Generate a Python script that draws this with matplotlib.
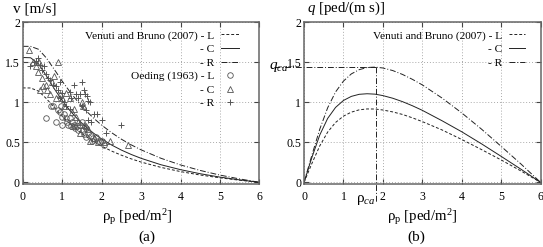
import matplotlib
matplotlib.use('Agg')
import matplotlib.pyplot as plt

plt.rcParams['font.family'] = ['Liberation Serif', 'DejaVu Serif']
plt.rcParams['mathtext.fontset'] = 'custom'
plt.rcParams['mathtext.rm'] = 'Liberation Serif'
plt.rcParams['mathtext.it'] = 'Liberation Serif:italic'
plt.rcParams['font.size'] = 8.5

# density samples
rho = [0, 0.2, 0.4, 0.6, 0.8, 1.0, 1.2, 1.4, 1.6, 1.8, 2.0, 2.25, 2.5, 2.75,
       3.0, 3.5, 4.0, 4.5, 5.0, 5.5, 6.0]
v_L = [1.18, 1.179, 1.140, 1.046, 0.935, 0.827, 0.731, 0.647, 0.573, 0.509, 0.452,
       0.391, 0.339, 0.293, 0.253, 0.187, 0.134, 0.091, 0.056, 0.026, 0.0]
v_C = [1.56, 1.557, 1.481, 1.331, 1.170, 1.023, 0.895, 0.786, 0.692, 0.612, 0.542,
       0.467, 0.403, 0.348, 0.300, 0.220, 0.158, 0.107, 0.065, 0.030, 0.0]
v_R = [1.70, 1.699, 1.663, 1.554, 1.411, 1.265, 1.129, 1.006, 0.897, 0.800, 0.715,
       0.621, 0.539, 0.468, 0.406, 0.301, 0.217, 0.148, 0.090, 0.042, 0.0]
q_L = [0, 0.236, 0.456, 0.628, 0.748, 0.827, 0.877, 0.906, 0.917, 0.916, 0.904,
       0.880, 0.848, 0.806, 0.759, 0.655, 0.536, 0.410, 0.280, 0.143, 0.0]
q_C = [0, 0.311, 0.592, 0.799, 0.936, 1.023, 1.074, 1.100, 1.107, 1.102, 1.084,
       1.051, 1.008, 0.957, 0.900, 0.770, 0.632, 0.482, 0.325, 0.165, 0.0]
q_R = [0, 0.340, 0.665, 0.932, 1.129, 1.265, 1.355, 1.408, 1.435, 1.440, 1.429,
       1.397, 1.348, 1.287, 1.218, 1.054, 0.868, 0.666, 0.450, 0.231, 0.0]

# Oeding (1963) measurements
oed_L_rho = [0.59, 0.72, 0.78, 0.85, 0.9, 0.95, 0.97, 1.0, 1.0, 1.05, 1.1, 1.12, 1.15,
             1.2, 1.22, 1.25, 1.3, 1.33, 1.38, 1.4, 1.45, 1.5, 1.52, 1.55, 1.6, 1.6,
             1.65, 1.72, 1.78, 1.85, 1.9, 1.95, 2.05, 2.0, 1.75]
oed_L_v = [0.81, 0.96, 0.95, 0.75, 0.91, 0.88, 0.96, 0.82, 0.72, 0.85, 0.80, 0.75, 0.72,
           0.80, 0.70, 0.75, 0.72, 0.68, 0.70, 0.66, 0.72, 0.75, 0.65, 0.60, 0.57, 0.68,
           0.62, 0.58, 0.55, 0.57, 0.52, 0.50, 0.47, 0.52, 0.52]
oed_C_rho = [0.17, 0.25, 0.33, 0.38, 0.42, 0.45, 0.5, 0.52, 0.58, 0.62, 0.7, 0.75, 0.8,
             0.85, 0.9, 0.95, 1.0, 1.05, 1.1, 1.2, 1.25, 1.3, 1.35, 1.4, 1.5, 1.52, 1.55,
             1.6, 1.65, 1.7, 1.8, 1.9, 2.05, 2.2, 2.68, 1.45, 1.28]
oed_C_v = [1.66, 1.5, 1.45, 1.38, 1.5, 1.15, 1.3, 1.2, 1.22, 1.15, 1.1, 1.25, 1.33,
           1.05, 1.51, 1.1, 1.05, 0.95, 1.12, 1.05, 0.88, 0.92, 0.82, 0.75, 1.0, 0.95, 0.72,
           0.7, 0.67, 0.52, 0.55, 0.5, 0.5, 0.52, 0.47, 0.62, 0.7]
oed_R_rho = [0.18, 0.28, 0.33, 0.4, 0.45, 0.5, 0.55, 0.58, 0.65, 0.7, 0.78, 0.85, 0.9,
             0.95, 1.0, 1.05, 1.1, 1.2, 1.22, 1.3, 1.35, 1.4, 1.45, 1.5, 1.55, 1.58, 1.62,
             1.65, 1.7, 1.5, 1.6, 1.65, 1.72, 1.8, 1.87, 2.0, 2.1, 2.5, 1.2, 0.95]
oed_R_v = [1.45, 1.5, 1.52, 1.55, 1.47, 1.4, 1.45, 1.35, 1.3, 1.28, 1.22, 1.2, 1.15,
           1.25, 1.12, 1.0, 0.95, 1.13, 1.05, 1.22, 1.11, 1.05, 1.11, 1.26, 1.15, 1.1, 1.08,
           1.02, 1.01, 0.95, 0.9, 0.78, 0.75, 0.85, 0.86, 0.78, 0.62, 0.72, 0.92, 1.05]

rho_ca = 1.815
q_ca = 1.44

lc = '#222222'
mc = '#555555'
dash_L = (0, (3, 2))
dash_R = (0, (6, 2, 1, 2))

fig = plt.figure(figsize=(5.43, 2.47), dpi=100)
ax1 = fig.add_axes([0.0418, 0.2538, 0.4361, 0.6559])
ax2 = fig.add_axes([0.5599, 0.2538, 0.4355, 0.6559])

for ax in (ax1, ax2):
    ax.set_xlim(0, 6)
    ax.set_ylim(-0.025, 2)
    ax.set_xticks([0, 1, 2, 3, 4, 5, 6])
    ax.set_yticks([0, 0.5, 1, 1.5, 2])
    ax.set_yticklabels(['0', '0.5', '1', '1.5', '2'])
    ax.grid(True, color='#aaaaaa', linestyle=(0, (1, 2)), linewidth=0.7)
    ax.tick_params(direction='in', top=True, right=True, length=3.5, width=0.8,
                   color='#444444')
    ax.tick_params(axis='x', pad=5)
    ax.tick_params(axis='y', pad=2)
    for s in ax.spines.values():
        s.set_color('#666666')
        s.set_linewidth(1.1)

leg_kw = dict(loc='upper right', frameon=False, markerfirst=False, handletextpad=0.6,
              labelspacing=0.31, borderpad=0, numpoints=1, fontsize=8.2)

# (a) speed - density
ax1.plot(rho, v_L, color=lc, lw=0.7, ls=dash_L, label='Venuti and Bruno (2007) - L')
ax1.plot(rho, v_C, color=lc, lw=0.7, ls='-', label='- C')
ax1.plot(rho, v_R, color=lc, lw=0.7, ls=dash_R, label='- R')
ax1.plot(oed_L_rho, oed_L_v, ls='none', marker='o', ms=4, mfc='none', mec=mc, mew=0.6,
         label='Oeding (1963) - L')
ax1.plot(oed_C_rho, oed_C_v, ls='none', marker='^', ms=4, mfc='none', mec=mc, mew=0.6,
         label='- C')
ax1.plot(oed_R_rho, oed_R_v, ls='none', marker='+', ms=5, mec=mc, mew=0.7, label='- R')
ax1.legend(bbox_to_anchor=(0.939, 0.985), handlelength=1.6, **leg_kw)

# (b) flow - density
ax2.plot(rho, q_L, color=lc, lw=0.7, ls=dash_L, label='Venuti and Bruno (2007) - L')
ax2.plot(rho, q_C, color=lc, lw=0.7, ls='-', label='- C')
ax2.plot(rho, q_R, color=lc, lw=0.7, ls=dash_R, label='- R')
ax2.plot([-0.76, rho_ca], [q_ca, q_ca], color=lc, lw=0.7, ls=dash_R, clip_on=False)
ax2.plot([rho_ca, rho_ca], [q_ca, -0.25], color=lc, lw=0.7, ls=dash_R, clip_on=False)
ax2.legend(bbox_to_anchor=(0.957, 0.985), handlelength=1.4, **leg_kw)
ax2.text(-0.65, q_ca + 0.0, r'$q_{ca}$', fontsize=11, ha='center', va='center')
ax2.text(rho_ca - 0.25, -0.22, r'ρ$_{ca}$', fontsize=11, ha='center', va='center')

fig.text(0.024, 0.965, 'v [m/s]', fontsize=11, ha='left', va='center')
fig.text(0.565, 0.968, r'$q$ [ped/(m s)]', fontsize=10.7, ha='left', va='center')
fig.text(0.252, 0.121, r'ρ$_\mathrm{p}$ [ped/m$^2$]', fontsize=10.7, ha='center', va='center')
fig.text(0.778, 0.121, r'ρ$_\mathrm{p}$ [ped/m$^2$]', fontsize=10.7, ha='center', va='center')
fig.text(0.271, 0.04, '(a)', fontsize=11, ha='center', va='center')
fig.text(0.766, 0.04, '(b)', fontsize=11, ha='center', va='center')

fig.savefig('out.png', dpi=100)
